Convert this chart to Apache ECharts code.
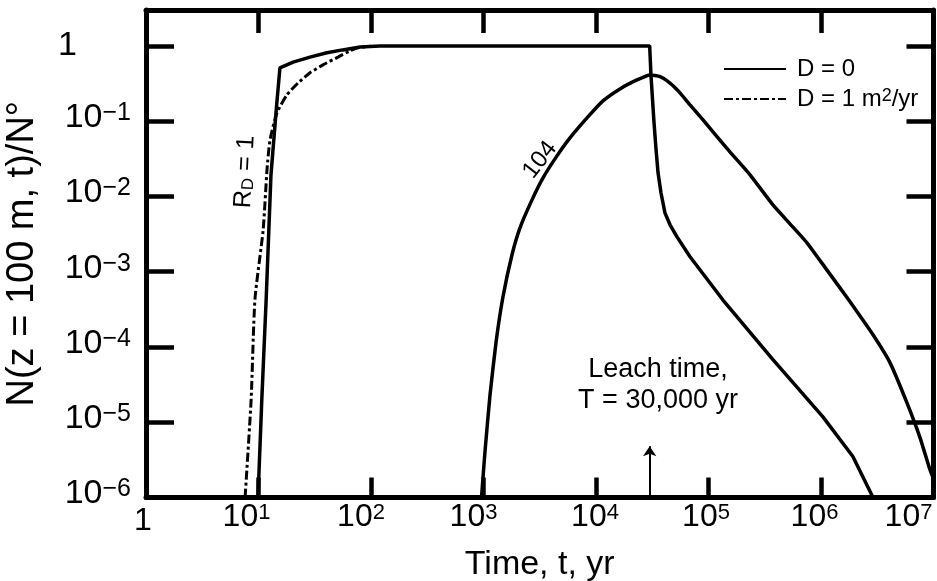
<!DOCTYPE html>
<html><head><meta charset="utf-8">
<script src="https://cdn.jsdelivr.net/npm/echarts@6/dist/echarts.min.js"></script>
<style>html,body{margin:0;padding:0;background:#fff}#c{width:937px;height:581px}</style>
</head><body><div id="c"></div>
<script>
// ---------- data ----------
const rd1D0Time  = [9.9, 10.7, 11.7, 12.9, 14.3, 15.5, 20.3, 28.7, 40.6, 56, 80, 120, 1000, 10000, 30000, 30800, 32100, 32800, 34200, 35600, 37800, 41000, 45500, 52500, 68500, 134500, 374000, 1040000, 1920000, 2900000];
const rd1D0Value = [1e-6, 2e-5, 4.3e-4, 0.019, 0.129, 0.51, 0.61, 0.71, 0.81, 0.885, 0.97, 1, 1, 1, 1, 0.412, 0.155, 0.095, 0.0416, 0.0206, 0.0112, 0.00605, 0.0042, 0.0029, 0.00158, 0.00042, 6.8e-5, 1.18e-5, 3.5e-6, 1e-6];
const rd104Time  = [960, 1031, 1143, 1291, 1490, 1792, 2110, 2698, 3380, 4500, 5870, 8320, 11540, 16330, 23130, 30200, 37070, 45500, 55800, 68500, 89400, 109600, 155000, 234000, 374000, 530000, 751000, 1000000, 1475000, 1920000, 2900000, 4100000, 5800000, 7600000, 9300000, 10000000];
const rd104Value = [1e-6, 4.06e-6, 2.32e-5, 1.14e-4, 4.64e-4, 1.68e-3, 3.83e-3, 9.0e-3, 0.01766, 0.0346, 0.06, 0.1106, 0.186, 0.2685, 0.353, 0.412, 0.391, 0.32, 0.2376, 0.1646, 0.104, 0.0721, 0.0391, 0.0194, 7.72e-3, 4.33e-3, 2.42e-3, 1.35e-3, 6.1e-4, 3.52e-4, 1.45e-4, 6.2e-5, 1.82e-5, 6.2e-6, 2.34e-6, 1.78e-6];
const rd1D1Time  = [7.6, 8.6, 9.3, 11.0, 11.9, 12.65, 14.6, 17.9, 22.4, 28.7, 37.4, 50.9, 65, 75, 100];
const rd1D1Value = [1e-6, 2e-5, 4.3e-4, 3.6e-3, 0.0225, 0.056, 0.129, 0.224, 0.32, 0.44, 0.56, 0.71, 0.86, 0.94, 0.99];

const xTickExponents = [0, 1, 2, 3, 4, 5, 6, 7];
const yTickExponents = [-6, -5, -4, -3, -2, -1, 0];
const seriesNames = ['D = 0', 'D = 1 m²/yr'];
const xAxisTitle = 'Time, t, yr';
const yAxisTitle = 'N(z = 100 m, t)/N°';
const leachTime = 30000;
const leachLines = ['Leach time,', 'T = 30,000 yr'];
const curveLabelRd1 = 'R{sub|D} = 1';
const curveLabelRd104 = '104';

// ---------- layout / style ----------
const FONT = "'Liberation Sans', Arial, Helvetica, sans-serif";
const xLabelShift = {0: 3, 1: 12, 2: 10, 3: 10, 4: 1, 5: 2.5, 6: 6.5, 7: 25};

function zip(a, b) { return a.map((v, i) => [v, b[i]]); }
function expOf(v) {
  const l = Math.log10(v), e = Math.round(l);
  return Math.abs(l - e) < 1e-6 ? e : null;
}
const xRich = {
  one: {fontSize: 32, lineHeight: 32, padding: [7, 2 * xLabelShift[0], 0, 0], fontFamily: FONT, color: '#000'},
  b: {fontSize: 32, lineHeight: 32, padding: [7, 0, 0, 0], verticalAlign: 'bottom', fontFamily: FONT, color: '#000'}
};
xTickExponents.forEach(e => {
  xRich['s' + e] = {fontSize: 22, lineHeight: 22, verticalAlign: 'top', padding: [0, 2 * xLabelShift[e], 0, 0], fontFamily: FONT, color: '#000'};
});
const yRich = {
  one: {fontSize: 34, lineHeight: 34, padding: [7, 54, 0, 0], fontFamily: FONT, color: '#000'},
  b: {fontSize: 34, lineHeight: 34, padding: [7, 0, 0, 0], verticalAlign: 'bottom', fontFamily: FONT, color: '#000'},
  s: {fontSize: 25, lineHeight: 25, verticalAlign: 'top', fontFamily: FONT, color: '#000'}
};

const axisLine = {show: true, lineStyle: {color: '#000', width: 5}};
function ticks(len) { return {show: true, inside: true, length: len, lineStyle: {color: '#000', width: 4.5}}; }

const chart = echarts.init(document.getElementById('c'), null, {renderer: 'canvas'});
const option = {
  animation: false,
  backgroundColor: '#fff',
  textStyle: {fontFamily: FONT, color: '#000'},
  grid: {left: 146, right: 3.5, top: 10, bottom: 83.5, containLabel: false, outerBoundsMode: 'none'},
  legend: {
    orient: 'vertical', left: 723, top: 57, padding: 0, itemGap: 6,
    itemWidth: 62, itemHeight: 14,
    itemStyle: {opacity: 0, borderWidth: 0},
    data: seriesNames,
    formatter: n => n === seriesNames[1] ? 'D = 1 m{lsup|2}/yr' : n,
    textStyle: {fontSize: 24, lineHeight: 24, color: '#000', fontFamily: FONT, padding: [0, 0, 0, 6],
      rich: {lsup: {fontSize: 18, lineHeight: 18, verticalAlign: 'top', color: '#000', fontFamily: FONT, padding: [0, 0, 6, 0]}}}
  },
  xAxis: [{
    type: 'log', logBase: 10, min: 1, max: 1e7, position: 'bottom', splitNumber: 7,
    axisLine, axisTick: ticks(20), splitLine: {show: false}, minorTick: {show: false},
    name: xAxisTitle, nameLocation: 'middle', nameGap: 50,
    nameTextStyle: {fontSize: 34, color: '#000', fontFamily: FONT},
    axisLabel: {
      margin: 4, rich: xRich, hideOverlap: false, showMinLabel: true, showMaxLabel: true,
      formatter: v => { const e = expOf(v); if (e === null || xTickExponents.indexOf(e) < 0) return '';
        return e === 0 ? '{one|1}' : '{b|10}{s' + e + '|' + e + '}'; }
    }
  }, {
    type: 'log', logBase: 10, min: 1, max: 1e7, position: 'top', splitNumber: 7,
    axisLine, axisTick: ticks(23), splitLine: {show: false}, axisLabel: {show: false}
  }],
  yAxis: [{
    type: 'log', logBase: 10, min: 1e-6, max: 3, position: 'left', splitNumber: 7,
    axisLine, axisTick: ticks(28), splitLine: {show: false}, minorTick: {show: false},
    name: yAxisTitle, nameLocation: 'middle', nameGap: 104,
    nameTextStyle: {fontSize: 38, color: '#000', fontFamily: FONT},
    axisLabel: {
      margin: 15, rich: yRich, padding: [0, 0, 7, 0], hideOverlap: false,
      formatter: v => { const e = expOf(v); if (e === null || yTickExponents.indexOf(e) < 0) return '';
        return e === 0 ? '{one|1}' : '{b|10}{s|−' + Math.abs(e) + '}'; }
    }
  }, {
    type: 'log', logBase: 10, min: 1e-6, max: 3, position: 'right', splitNumber: 7,
    axisLine, axisTick: ticks(27), splitLine: {show: false}, axisLabel: {show: false}
  }],
  series: [{
    type: 'line', name: seriesNames[0], data: zip(rd1D0Time, rd1D0Value),
    symbol: 'none', color: '#000', lineStyle: {color: '#000', width: 3.5}, z: 3,
    markLine: {
      silent: true, symbol: ['none', 'arrow'], symbolSize: 10, label: {show: false},
      lineStyle: {color: '#000', width: 2, type: 'solid'},
      data: [[{coord: [leachTime, 1e-6]}, {coord: [leachTime, 4.8e-6]}]]
    }
  }, {
    type: 'line', name: seriesNames[0], data: zip(rd104Time, rd104Value),
    symbol: 'none', smooth: 0.15, color: '#000', lineStyle: {color: '#000', width: 3.5}, z: 3
  }, {
    type: 'line', name: seriesNames[1], data: zip(rd1D1Time, rd1D1Value),
    symbol: 'none', smooth: 0.2, color: '#000', lineStyle: {color: '#000', width: 3, type: [9, 3, 3, 3]}, z: 4
  }]
};
chart.setOption(option);

// annotations placed through the chart's own scales
function px(t, n) { return chart.convertToPixel({xAxisIndex: 0, yAxisIndex: 0}, [t, n]); }
const pLeach = px(35600, 3.1e-5);
const p104 = px(3180, 0.0306);
const pRd = px(7.59, 0.0212);
chart.setOption({
  graphic: [
    {type: 'text', x: pLeach[0], y: pLeach[1], silent: true,
      style: {text: leachLines.join('\n'), fontSize: 27, lineHeight: 31, fontFamily: FONT, fill: '#000', align: 'center', verticalAlign: 'middle'}},
    {type: 'text', x: p104[0], y: p104[1], rotation: 0.91, silent: true,
      style: {text: curveLabelRd104, fontSize: 24, fontFamily: FONT, fill: '#000', align: 'center', verticalAlign: 'middle'}},
    {type: 'text', x: pRd[0], y: pRd[1], rotation: 1.52, silent: true,
      style: {text: curveLabelRd1, fontSize: 25, fontFamily: FONT, fill: '#000', align: 'center', verticalAlign: 'middle',
        rich: {sub: {fontSize: 17, verticalAlign: 'bottom', padding: [8, 0, 0, 0], fontFamily: FONT, fill: '#000'}}}}
  ]
});
</script>
</body></html>
